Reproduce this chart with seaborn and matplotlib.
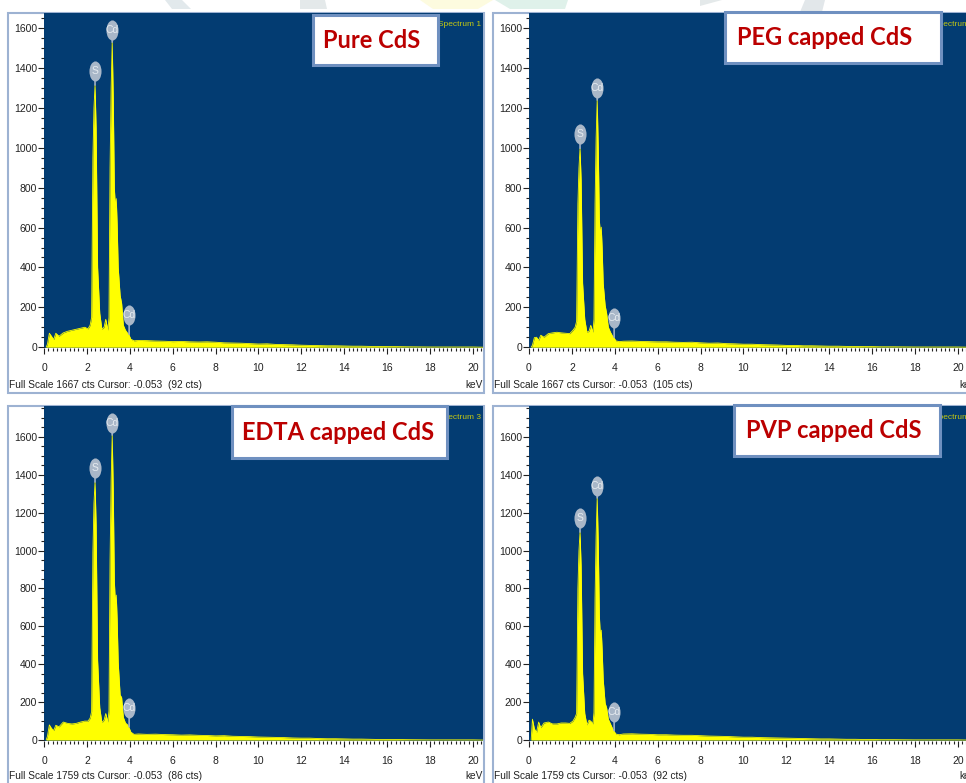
import matplotlib
matplotlib.use("Agg")
import seaborn as sns
from matplotlib import pyplot as plt
from matplotlib.patches import Polygon, Rectangle
from matplotlib.path import Path
from matplotlib.ticker import MultipleLocator
from matplotlib.transforms import Affine2D, offset_copy

WIDTH, HEIGHT = 966, 783

kev = [0.10, 0.16, 0.25, 0.35, 0.45, 0.55, 0.70, 0.90, 1.10, 1.30, 1.50, 1.70, 1.90, 2.05, 2.15,
       2.22, 2.28, 2.33, 2.38, 2.43, 2.50, 2.60, 2.70, 2.80, 2.88, 2.98, 3.03, 3.08, 3.13, 3.18,
       3.23, 3.28, 3.33, 3.37, 3.41, 3.46, 3.55, 3.62, 3.70, 3.80, 3.90, 3.95, 4.05, 4.20,
       4.4, 4.8, 5.2, 5.6, 6.0, 6.4, 6.8, 7.2, 7.6, 8.0, 8.4, 8.8, 9.2, 9.6, 10.0, 10.4, 10.8,
       11.2, 11.6, 12.0, 12.4, 12.8, 13.2, 13.6, 14.0, 14.4, 14.8, 15.2, 15.6, 16.0, 16.4, 17.0,
       18.0, 19.0, 20.0, 20.47]

counts_pure = [0, 15, 70, 55, 38, 70, 55, 72, 80, 85, 90, 95, 100, 92, 110,
               150, 950, 1200, 1315, 1100, 400, 170, 90, 100, 140, 85, 150, 900, 1300, 1530,
               1250, 800, 700, 745, 620, 400, 260, 220, 110, 85, 70, 65, 40, 32,
               34, 33, 31, 30, 28, 29, 27, 26, 27, 25, 22, 21, 20, 18, 16, 17, 14,
               13, 12, 10, 9, 8, 7, 7, 6, 5, 5, 4, 4, 3, 3, 2, 1, 1, 1, 0]
counts_peg = [0, 10, 48, 50, 35, 60, 50, 68, 72, 75, 72, 70, 68, 85, 100,
              130, 720, 900, 998, 840, 320, 140, 75, 80, 110, 75, 140, 720, 1050, 1240,
              1000, 640, 560, 602, 500, 320, 210, 170, 100, 75, 55, 50, 32, 28,
              30, 31, 29, 28, 27, 27, 25, 24, 25, 22, 20, 21, 18, 17, 15, 15, 13,
              12, 11, 9, 9, 7, 7, 6, 5, 5, 4, 4, 3, 3, 2, 2, 1, 1, 1, 0]
counts_edta = [0, 20, 80, 62, 50, 78, 70, 95, 88, 85, 88, 95, 100, 100, 115,
               150, 990, 1250, 1362, 1140, 420, 170, 92, 105, 140, 95, 155, 950, 1370, 1610,
               1320, 840, 720, 765, 640, 410, 238, 225, 120, 90, 80, 70, 42, 30,
               32, 30, 31, 29, 28, 26, 27, 25, 24, 22, 23, 20, 19, 18, 16, 15, 14,
               13, 11, 10, 10, 8, 7, 7, 6, 5, 5, 4, 3, 3, 3, 2, 1, 1, 1, 0]
counts_pvp = [0, 110, 60, 40, 95, 65, 90, 95, 85, 85, 90, 90, 88, 100, 120,
              140, 800, 1000, 1098, 920, 350, 140, 80, 105, 100, 85, 145, 750, 1080, 1278,
              1040, 660, 540, 580, 480, 320, 195, 170, 110, 85, 60, 50, 32, 28,
              32, 33, 31, 30, 28, 28, 26, 25, 25, 23, 21, 20, 19, 17, 15, 15, 13,
              12, 11, 10, 9, 8, 7, 6, 6, 5, 4, 4, 3, 3, 2, 2, 1, 1, 1, 0]

sample_names = ["Pure CdS", "PEG capped CdS", "EDTA capped CdS", "PVP capped CdS"]
spectrum_names = ["Spectrum 1", "Spectrum 2", "Spectrum 3", "Spectrum 4"]
footers = [
    "Full Scale 1667 cts Cursor: -0.053  (92 cts)",
    "Full Scale 1667 cts Cursor: -0.053  (105 cts)",
    "Full Scale 1759 cts Cursor: -0.053  (86 cts)",
    "Full Scale 1759 cts Cursor: -0.053  (92 cts)",
]
all_counts = [counts_pure, counts_peg, counts_edta, counts_pvp]
y_limits = [(-4, 1676), (-4, 1676), (-5, 1763), (-5, 1763)]
element_labels = ["S", "Cd", "Cd"]
element_kev = [2.38, 3.18, 3.97]

# pixel layout, origin top left: frame (left, top, right, bottom), axes (left, top, right, bottom)
frames = [(8, 13, 484, 393), (493, 13, 980, 393), (8, 406, 484, 795), (493, 406, 980, 795)]
axes_boxes = [(44, 13, 483, 348), (529, 13, 968, 348), (44, 406, 483, 741), (529, 406, 968, 741)]
label_boxes = [(313, 15, 438, 65), (725, 12, 941, 63), (232, 406, 447, 458), (734, 405, 940, 456)]
label_text_x = [372, 825, 338, 834]
spectrum_right = [481, 976, 481, 976]
spectrum_y = [24, 25, 417, 417]
footer_y = [385, 385, 776, 776]
kev_right = [483, 977, 483, 977]
# pale watermark pieces behind the panels
watermarks = [
    ([(165, 0), (182, 0), (191, 9), (172, 9)], "#e2e9ec"),
    ([(300, 0), (325, 0), (327, 9), (300, 9)], "#e4e9ea"),
    ([(420, 0), (493, 0), (478, 9), (433, 9)], "#fdfbdf"),
    ([(495, 0), (568, 0), (565, 9), (510, 9)], "#dff1ea"),
    ([(700, 0), (722, 0), (700, 6)], "#e4e9ea"),
    ([(805, 0), (825, 0), (822, 12), (800, 12)], "#e2e7ea"),
]

BLUE = "#033c72"
YELLOW = "#ffff00"
FRAME = "#9db2d2"
SANS = ["Liberation Sans", "DejaVu Sans"]


def px(x, y):
    return x / WIDTH, 1 - y / HEIGHT


def add_fig_rect(fig, box, **kwargs):
    left, top, right, bottom = box
    x0, y0 = px(left, bottom)
    x1, y1 = px(right, top)
    fig.add_artist(Rectangle((x0, y0), x1 - x0, y1 - y0, transform=fig.transFigure, **kwargs))


def draw_marker(ax, fig, x, y, label, offset):
    # grey lozenge sitting on a stem above the peak
    shape = Path.unit_circle().transformed(Affine2D().scale(0.6, 1.0))
    shifted = offset_copy(ax.transData, fig=fig, x=0, y=offset * 0.72, units="points")
    ax.annotate("", xy=(x, y), xytext=(0, offset), textcoords="offset pixels",
                arrowprops=dict(arrowstyle="-", color="#9fb0c4", lw=1.2, shrinkA=0, shrinkB=0), zorder=4)
    ax.scatter([x], [y], s=210, marker=shape, color="#a9b7c8", linewidths=0, transform=shifted, zorder=5)
    ax.text(x, y, label, transform=shifted, ha="center", va="center", color="#e6ebf0", fontsize=7.5,
            zorder=6)


def draw_panel(fig, index):
    left, top, right, bottom = axes_boxes[index]
    x0, y0 = px(left, bottom)
    ax = fig.add_axes([x0, y0, (right - left) / WIDTH, (bottom - top) / HEIGHT], facecolor=BLUE)

    counts = all_counts[index]
    sns.lineplot(x=kev, y=counts, ax=ax, color=YELLOW, lw=0.6, errorbar=None)
    ax.fill_between(kev, counts, color=YELLOW, lw=0)

    ax.set_xlim(0, 20.47)
    ax.set_ylim(*y_limits[index])
    ax.xaxis.set_major_locator(MultipleLocator(2))
    ax.xaxis.set_minor_locator(MultipleLocator(0.2))
    ax.yaxis.set_major_locator(MultipleLocator(200))
    ax.yaxis.set_minor_locator(MultipleLocator(50))
    ax.tick_params(which="major", length=4, width=0.8, color="#222222", labelsize=7.5,
                   labelcolor="#222222")
    ax.tick_params(which="minor", length=2.2, width=0.8, color="#222222")
    ax.tick_params(axis="x", which="major", pad=7)
    ax.tick_params(axis="y", which="major", pad=1)
    sns.despine(ax=ax, left=True, bottom=True, top=True, right=True)

    peak_values = [max(counts[15:22]), max(counts[26:33]), counts[41]]
    offsets = [14, 12, 19]
    for label, x, y, offset in zip(element_labels, element_kev, peak_values, offsets):
        draw_marker(ax, fig, x, y, label, offset)
    return ax


sns.set_theme(style="ticks")
plt.rcParams["font.family"] = SANS

fig = plt.figure(figsize=(WIDTH / 100, HEIGHT / 100), dpi=100, facecolor="white")

for points, color in watermarks:
    fig.add_artist(Polygon([px(*p) for p in points], closed=True, transform=fig.transFigure,
                           facecolor=color, edgecolor="none", zorder=-5))

for i in range(4):
    add_fig_rect(fig, frames[i], facecolor="white", edgecolor=FRAME, lw=1.5, zorder=-1)
    draw_panel(fig, i)

    x, y = px(spectrum_right[i], spectrum_y[i])
    fig.text(x, y, spectrum_names[i], ha="right", va="center", color="#c4c812", fontsize=6, zorder=3)
    x, y = px(frames[i][0] + 1, footer_y[i])
    fig.text(x, y, footers[i], ha="left", va="center", color="#222222", fontsize=7.3, zorder=3)
    x, y = px(kev_right[i], footer_y[i])
    fig.text(x, y, "keV", ha="right", va="center", color="#222222", fontsize=7.3, zorder=3)

    add_fig_rect(fig, label_boxes[i], facecolor="white", edgecolor="#6f90c0", lw=2.2, zorder=8)
    top, bottom = label_boxes[i][1], label_boxes[i][3]
    x, y = px(label_text_x[i], (top + bottom) / 2)
    fig.text(x, y, sample_names[i], ha="center", va="center", color="#bb0000", fontsize=17,
             fontweight="bold", family=["Lato", "DejaVu Sans"], zorder=9)

fig.savefig("out.png", dpi=100)
